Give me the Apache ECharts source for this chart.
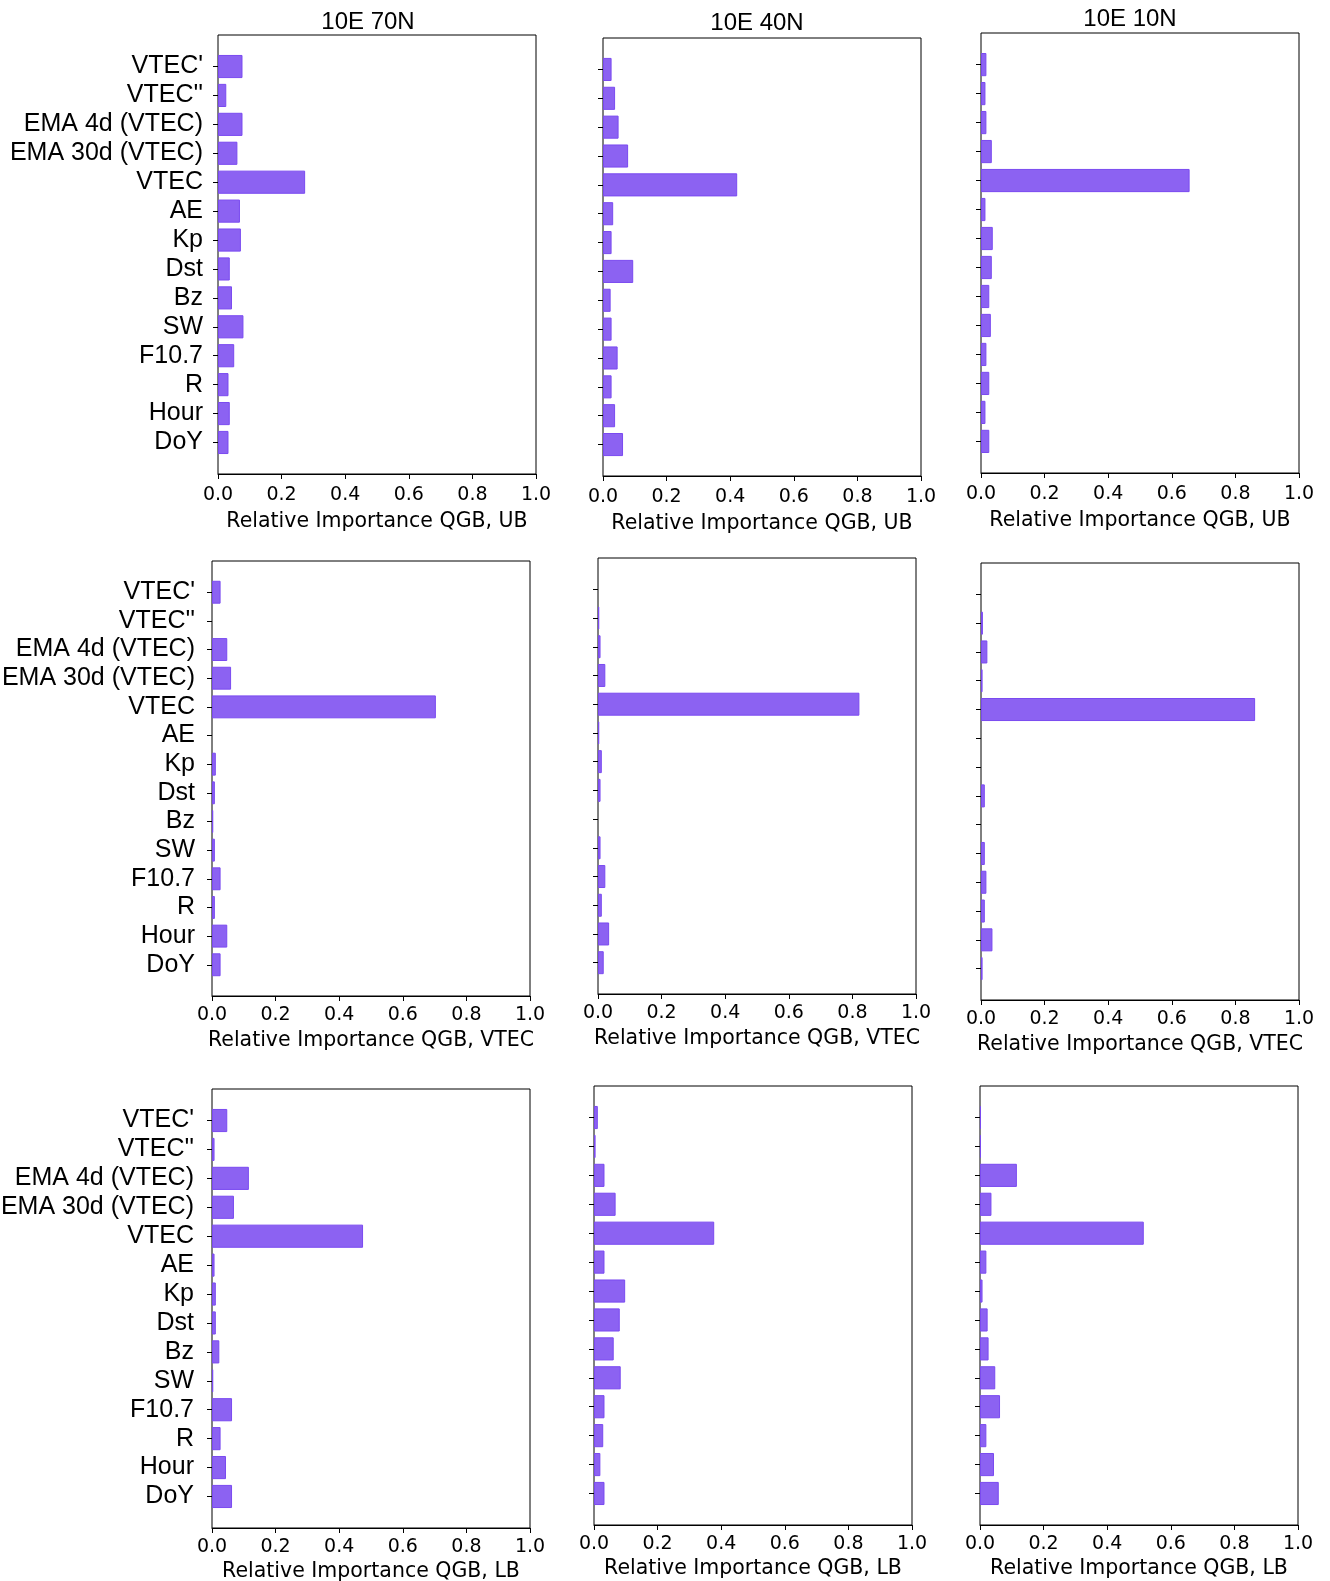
<!DOCTYPE html>
<html>
<head>
<meta charset="utf-8">
<title>Relative Importance QGB</title>
<script src="https://cdn.jsdelivr.net/npm/echarts@6/dist/echarts.min.js"></script>
<style>
  html, body { margin: 0; padding: 0; background: #ffffff; }
  #chart { width: 1330px; height: 1581px; }
</style>
</head>
<body>
<div id="chart"></div>
<script>
// Feature names, top to bottom
const categories = ["VTEC'", "VTEC''", "EMA 4d (VTEC)", "EMA 30d (VTEC)", "VTEC", "AE", "Kp",
  "Dst", "Bz", "SW", "F10.7", "R", "Hour", "DoY"];

// Station columns and target rows
const stations = ["10E 70N", "10E 40N", "10E 10N"];
const targetNames = ["Relative Importance QGB, UB", "Relative Importance QGB, VTEC", "Relative Importance QGB, LB"];

// Upper bound model
const ub70 = [0.077, 0.026, 0.077, 0.061, 0.274, 0.069, 0.072, 0.037, 0.044, 0.080, 0.051, 0.033, 0.037, 0.033];
const ub40 = [0.027, 0.038, 0.049, 0.079, 0.422, 0.032, 0.027, 0.095, 0.024, 0.027, 0.046, 0.027, 0.038, 0.063];
const ub10 = [0.017, 0.014, 0.017, 0.034, 0.656, 0.014, 0.037, 0.034, 0.026, 0.031, 0.017, 0.026, 0.014, 0.026];
// VTEC model
const vtec70 = [0.027, 0, 0.048, 0.060, 0.704, 0, 0.012, 0.009, 0.004, 0.009, 0.027, 0.009, 0.048, 0.027];
const vtec40 = [0, 0.004, 0.008, 0.023, 0.822, 0.004, 0.012, 0.008, 0, 0.008, 0.023, 0.012, 0.035, 0.018];
const vtec10 = [0, 0.006, 0.020, 0.005, 0.862, 0, 0, 0.012, 0, 0.012, 0.017, 0.012, 0.036, 0.005];
// Lower bound model
const lb70 = [0.048, 0.008, 0.116, 0.069, 0.475, 0.008, 0.012, 0.012, 0.023, 0.004, 0.063, 0.027, 0.044, 0.063];
const lb40 = [0.012, 0.005, 0.033, 0.068, 0.378, 0.033, 0.098, 0.081, 0.062, 0.084, 0.033, 0.029, 0.020, 0.033];
const lb10 = [0.003, 0.003, 0.116, 0.036, 0.515, 0.020, 0.008, 0.024, 0.027, 0.048, 0.063, 0.020, 0.044, 0.059];

const panelValues = [
  [ub70, ub40, ub10],
  [vtec70, vtec40, vtec10],
  [lb70, lb40, lb10]
];

// Axes boxes in pixels: left, top, bottom (all boxes share the same width)
const boxes = [
  [[218, 35, 474], [603, 38, 476], [981, 33, 473]],
  [[212, 561, 996], [598, 558, 994], [981, 563, 1000]],
  [[212, 1089, 1528], [594, 1086, 1525], [980, 1086, 1525]]
];
const boxWidth = 318;
const titlePos = [[363, 5], [752, 6], [1125, 2]];
const labelMargin = [15, 17, 18];
const tickMargin = [12, 10, 10];
const nameGap = [37, 34, 33];

const barFill = '#8c62f2';
const barEdge = '#7a4af0';

// matplotlib-style limits for 14 bars of height 0.8 with 5% margins
const nCat = categories.length;
const half = 0.4;
const pad = 0.05 * ((nCat - 1) + 2 * half);
const yLo = -half - pad;
const ySpan = (nCat - 1 + half + pad) - yLo;

const grid = [], xAxis = [], yAxis = [], series = [], title = [];

for (let r = 0; r < 3; r++) {
  for (let c = 0; c < 3; c++) {
    const [L, T, B] = boxes[r][c];
    const H = B - T;
    const unit = H / ySpan;
    const frameIdx = grid.length;
    // frame with x ticks
    grid.push({
      left: L, top: T, width: boxWidth, height: H,
      show: true, borderColor: '#000', borderWidth: 1, backgroundColor: 'transparent',
      outerBoundsMode: 'none'
    });
    xAxis.push({
      gridIndex: frameIdx, type: 'value', min: 0, max: 1, interval: 0.2,
      axisLine: { show: true, lineStyle: { color: '#000', width: 1 } },
      axisTick: { show: true, inside: false, length: 5, lineStyle: { color: '#000', width: 1 } },
      axisLabel: {
        show: true, margin: tickMargin[r], color: '#000', fontFamily: 'DejaVu Sans', fontSize: 19,
        formatter: v => v.toFixed(1)
      },
      splitLine: { show: false },
      name: targetNames[r], nameLocation: 'middle', nameGap: nameGap[r], nameMoveOverlap: false,
      nameTextStyle: { color: '#000', fontFamily: 'DejaVu Sans', fontSize: 20.5 }
    });
    yAxis.push({ gridIndex: frameIdx, type: 'value', min: 0, max: 1, show: false });

    // bar area placed so that category centres fall on the matplotlib positions
    const dataIdx = grid.length;
    grid.push({
      left: L, top: T + (-yLo - 0.5) * unit, width: boxWidth, height: nCat * unit,
      show: false, outerBoundsMode: 'none'
    });
    xAxis.push({ gridIndex: dataIdx, type: 'value', min: 0, max: 1, show: false });
    yAxis.push({
      gridIndex: dataIdx, type: 'category', data: categories, inverse: true,
      axisLine: { show: false },
      axisTick: { show: true, alignWithLabel: true, inside: false, length: 5, lineStyle: { color: '#000', width: 1 } },
      axisLabel: {
        show: c === 0, interval: 0, margin: labelMargin[r], color: '#000',
        fontFamily: 'Liberation Sans', fontSize: 25
      },
      splitLine: { show: false }
    });
    series.push({
      type: 'bar', xAxisIndex: dataIdx, yAxisIndex: dataIdx,
      // zero-importance features leave no visible sliver
      data: panelValues[r][c].map(v => v === 0 ? { value: v, itemStyle: { borderWidth: 0 } } : v),
      barWidth: '80%', silent: true,
      itemStyle: { color: barFill, borderColor: barEdge, borderWidth: 1 }
    });
  }
}

for (let c = 0; c < 3; c++) {
  title.push({
    text: stations[c], left: titlePos[c][0], top: titlePos[c][1], textAlign: 'center',
    textStyle: { color: '#000', fontFamily: 'Liberation Sans', fontSize: 24, fontWeight: 'normal' }
  });
}

const chart = echarts.init(document.getElementById('chart'), null, { renderer: 'canvas' });
chart.setOption({
  backgroundColor: '#ffffff',
  animation: false,
  title, grid, xAxis, yAxis, series
});
</script>
</body>
</html>
